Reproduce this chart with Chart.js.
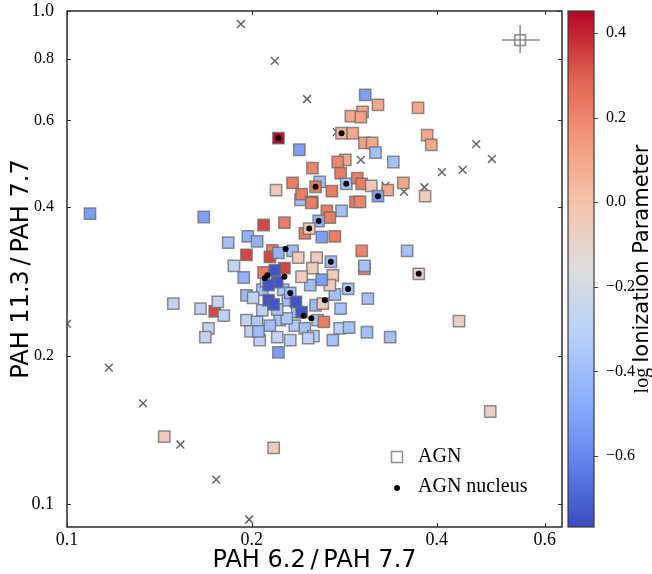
<!DOCTYPE html>
<html>
<head>
<meta charset="utf-8">
<script src="https://cdn.jsdelivr.net/npm/chart.js@4.4.1/dist/chart.umd.min.js"></script>
<style>
  body { margin: 0; background: #fff; }
  canvas { display: block; }
</style>
</head>
<body>
<canvas id="pah_ratio" width="652" height="574"></canvas>
<script>
// axis ticks
var xTicks = [0.1, 0.2, 0.4, 0.6];
var yTicks = [0.1, 0.2, 0.4, 0.6, 0.8, 1.0];
var yMajor = [0.1, 1.0];
var cbTicks = [-0.6, -0.4, -0.2, 0.0, 0.2, 0.4];
var xRange = [0.1, 0.64];
var yRange = [0.0898, 1.0];
var cbRange = [-0.768, 0.452];

// AGN regions: PAH 6.2/7.7, PAH 11.3/7.7, log U
var agnX = [0.109, 0.167, 0.149, 0.165, 0.174, 0.176, 0.180, 0.170, 0.168, 0.144, 0.217, 0.435, 0.489,
  0.221, 0.239, 0.251, 0.233, 0.219, 0.240, 0.241, 0.251, 0.258, 0.254, 0.306, 0.321, 0.373, 0.290,
  0.303, 0.301, 0.280, 0.292, 0.305, 0.314, 0.318, 0.386, 0.392, 0.340, 0.284, 0.276, 0.279, 0.270,
  0.285, 0.297, 0.302, 0.313, 0.333, 0.321, 0.353, 0.383, 0.295, 0.300, 0.280, 0.265, 0.250, 0.209,
  0.226, 0.197, 0.204, 0.183, 0.196, 0.216, 0.214, 0.221, 0.187, 0.194, 0.268, 0.257, 0.244, 0.248,
  0.260, 0.273, 0.302, 0.305, 0.305, 0.358, 0.374,
  0.208, 0.225, 0.229, 0.222, 0.235, 0.244, 0.256, 0.208, 0.214, 0.231, 0.254, 0.273, 0.249, 0.278,
  0.206, 0.237, 0.196, 0.201, 0.196, 0.204, 0.199, 0.205, 0.220, 0.228, 0.220, 0.211, 0.233, 0.238,
  0.255, 0.251, 0.241, 0.271, 0.268, 0.261, 0.269, 0.260, 0.287, 0.231, 0.209, 0.226, 0.218, 0.220,
  0.213, 0.213, 0.217, 0.236, 0.241, 0.262, 0.279, 0.309, 0.288, 0.308, 0.336, 0.271, 0.252, 0.247,
  0.221];
var agnY = [0.388, 0.382, 0.255, 0.249, 0.246, 0.257, 0.241, 0.227, 0.218, 0.137, 0.130, 0.235, 0.154,
  0.552, 0.523, 0.480, 0.448, 0.433, 0.414, 0.425, 0.410, 0.450, 0.440, 0.676, 0.645, 0.636, 0.612,
  0.624, 0.609, 0.565, 0.565, 0.540, 0.540, 0.516, 0.560, 0.535, 0.494, 0.499, 0.494, 0.469, 0.431,
  0.446, 0.458, 0.446, 0.442, 0.433, 0.421, 0.448, 0.421, 0.410, 0.410, 0.393, 0.393, 0.408, 0.368,
  0.372, 0.349, 0.341, 0.339, 0.320, 0.327, 0.317, 0.323, 0.304, 0.288, 0.381, 0.375, 0.354, 0.362,
  0.348, 0.349, 0.326, 0.300, 0.304, 0.326, 0.293,
  0.272, 0.272, 0.259, 0.236, 0.230, 0.227, 0.236, 0.247, 0.230, 0.215, 0.253, 0.266, 0.278, 0.227,
  0.215, 0.245, 0.265, 0.262, 0.236, 0.234, 0.224, 0.224, 0.218, 0.238, 0.248, 0.283, 0.326, 0.316,
  0.316, 0.301, 0.289, 0.291, 0.278, 0.255, 0.310, 0.285, 0.273, 0.268, 0.295, 0.301, 0.298, 0.282,
  0.278, 0.259, 0.254, 0.257, 0.245, 0.234, 0.249, 0.261, 0.228, 0.223, 0.218, 0.215, 0.219, 0.217,
  0.203];
var agnLogU = [-0.52, -0.52, -0.27, -0.27, 0.34, -0.27, -0.30, -0.27, -0.27, -0.05, -0.05, -0.08, -0.08,
  0.45, -0.52, 0.20, 0.22, -0.05, -0.38, 0.22, 0.20, -0.38, 0.22, -0.52, 0.10, 0.10, 0.10,
  0.10, 0.12, 0.05, 0.10, 0.12, 0.10, -0.38, 0.10, 0.10, -0.38, 0.10, 0.20, 0.22, 0.22,
  -0.38, 0.22, 0.22, -0.03, 0.10, -0.52, 0.10, -0.05, 0.22, 0.20, -0.38, 0.22, 0.22, 0.34,
  0.22, -0.45, -0.45, -0.38, 0.34, 0.22, 0.34, -0.45, -0.27, -0.45, 0.22, -0.45, 0.22, -0.05,
  -0.52, 0.22, 0.20, 0.20, -0.38, -0.38, -0.08,
  -0.38, -0.35, -0.40, -0.38, -0.35, -0.38, -0.35, -0.30, -0.40, -0.30, -0.40, -0.38, -0.40, -0.30,
  -0.30, -0.40, -0.40, -0.27, -0.27, -0.35, -0.27, -0.40, -0.27, -0.35, -0.38, -0.27, -0.40, -0.05,
  -0.05, -0.05, -0.05, -0.05, -0.05, -0.05, -0.40, -0.52, -0.38, -0.40, 0.22, 0.34, -0.74, -0.74,
  -0.74, -0.74, -0.74, -0.74, -0.74, 0.22, -0.38, -0.38, -0.38, -0.38, -0.38, -0.38, -0.30, -0.30,
  -0.52];

// AGN nucleus
var nucX = [0.221, 0.280, 0.254, 0.285, 0.321, 0.257, 0.248, 0.227, 0.212, 0.210, 0.226, 0.269,
  0.231, 0.287, 0.263, 0.243, 0.250, 0.374];
var nucY = [0.552, 0.565, 0.440, 0.446, 0.421, 0.375, 0.362, 0.329, 0.291, 0.287, 0.289, 0.310,
  0.268, 0.273, 0.259, 0.241, 0.238, 0.293];

// non-AGN (crosses)
var otherX = [0.192, 0.218, 0.246, 0.275, 0.301, 0.330, 0.354, 0.382, 0.408, 0.441, 0.464, 0.492,
  0.100, 0.117, 0.133, 0.153, 0.175, 0.198];
var otherY = [0.941, 0.792, 0.663, 0.568, 0.499, 0.442, 0.430, 0.439, 0.471, 0.476, 0.537, 0.501,
  0.232, 0.189, 0.160, 0.132, 0.112, 0.093];

// typical error bar
var errX = [0.547];
var errY = [0.873];
var errXRange = [0.511, 0.589];
var errYRange = [0.822, 0.937];

var coolwarmStops = [[59, 76, 192], [98, 130, 234], [141, 176, 254], [184, 208, 249], [221, 221, 221],
  [245, 196, 173], [244, 154, 123], [222, 96, 77], [180, 4, 38]];

function coolwarm(v) {
  var t = (v - cbRange[0]) / (cbRange[1] - cbRange[0]);
  t = Math.min(1, Math.max(0, t)) * 8;
  var i = Math.min(7, Math.floor(t)), f = t - i;
  var a = coolwarmStops[i], b = coolwarmStops[i + 1];
  return 'rgb(' + a.map(function (c, k) { return Math.round(c + (b[k] - c) * f); }).join(',') + ')';
}

function pts(xs, ys) {
  return xs.map(function (x, i) { return { x: x, y: ys[i] }; });
}

// no label overhang padding, the frame is placed by the fixed sizes below
function noPad(s) {
  s.paddingTop = 0; s.paddingBottom = 0; s.paddingLeft = 0; s.paddingRight = 0;
}

var serif = 'Liberation Serif';
var sans = 'DejaVu Sans';
var edgeColor = 'rgba(105,105,105,0.75)';

var decor = {
  id: 'decor',
  beforeDatasetsDraw: function (chart) {
    var ctx = chart.ctx, sx = chart.scales.x, sy = chart.scales.y;
    ctx.save();
    ctx.strokeStyle = '#8a8a8a';
    ctx.lineWidth = 1.5;
    ctx.beginPath();
    ctx.moveTo(sx.getPixelForValue(errXRange[0]), sy.getPixelForValue(errY[0]));
    ctx.lineTo(sx.getPixelForValue(errXRange[1]), sy.getPixelForValue(errY[0]));
    ctx.moveTo(sx.getPixelForValue(errX[0]), sy.getPixelForValue(errYRange[0]));
    ctx.lineTo(sx.getPixelForValue(errX[0]), sy.getPixelForValue(errYRange[1]));
    ctx.stroke();
    ctx.restore();
  },
  afterDraw: function (chart) {
    var ctx = chart.ctx, a = chart.chartArea;
    var sx = chart.scales.x, sy = chart.scales.y, cb = chart.scales.cb;
    ctx.save();
    // frame
    ctx.strokeStyle = '#2b2b2b';
    ctx.lineWidth = 1.5;
    ctx.strokeRect(a.left, a.top, a.right - a.left, a.bottom - a.top);
    // inward ticks on all four sides
    ctx.lineWidth = 1;
    ctx.beginPath();
    sx.ticks.forEach(function (t) {
      var px = Math.round(sx.getPixelForValue(t.value)) + 0.5;
      ctx.moveTo(px, a.bottom); ctx.lineTo(px, a.bottom - 4);
      ctx.moveTo(px, a.top); ctx.lineTo(px, a.top + 4);
    });
    sy.ticks.forEach(function (t) {
      var py = Math.round(sy.getPixelForValue(t.value)) + 0.5;
      ctx.moveTo(a.left, py); ctx.lineTo(a.left + 4, py);
      ctx.moveTo(a.right, py); ctx.lineTo(a.right - 4, py);
    });
    ctx.stroke();

    // colour bar
    var bx = a.right + 6, bw = 26;
    var g = ctx.createLinearGradient(0, cb.bottom, 0, cb.top);
    coolwarmStops.forEach(function (c, i) { g.addColorStop(i / 8, 'rgb(' + c.join(',') + ')'); });
    ctx.fillStyle = g;
    ctx.fillRect(bx, cb.top, bw, cb.bottom - cb.top);
    ctx.strokeStyle = '#3a3a3a';
    ctx.lineWidth = 1.2;
    ctx.strokeRect(bx, cb.top, bw, cb.bottom - cb.top);
    ctx.lineWidth = 1;
    ctx.beginPath();
    cb.ticks.forEach(function (t) {
      var py = Math.round(cb.getPixelForValue(t.value)) + 0.5;
      ctx.moveTo(bx + bw, py); ctx.lineTo(bx + bw + 4, py);
    });
    ctx.stroke();

    // colour bar label, reading upwards
    ctx.fillStyle = '#000';
    ctx.textBaseline = 'alphabetic';
    ctx.textAlign = 'left';
    ctx.translate(648, (cb.top + cb.bottom) / 2);
    ctx.rotate(-Math.PI / 2);
    ctx.font = '20px "' + serif + '"';
    var w1 = ctx.measureText('log').width;
    ctx.font = '21px "' + sans + '"';
    var w2 = ctx.measureText('Ionization Parameter').width;
    var gap = 5;
    var start = -(w1 + gap + w2) / 2;
    ctx.font = '20px "' + serif + '"';
    ctx.fillText('log', start, 0);
    ctx.font = '21px "' + sans + '"';
    ctx.fillText('Ionization Parameter', start + w1 + gap, 0);
    ctx.restore();

    // legend
    ctx.save();
    var lx = a.right - 165, ly1 = a.bottom - 70, ly2 = a.bottom - 39;
    ctx.strokeStyle = edgeColor;
    ctx.lineWidth = 1.5;
    ctx.strokeRect(lx - 5.5, ly1 - 5.5, 11, 11);
    ctx.fillStyle = '#000';
    ctx.beginPath();
    ctx.arc(lx, ly2, 3, 0, Math.PI * 2);
    ctx.fill();
    ctx.font = '20px "' + serif + '"';
    ctx.textBaseline = 'middle';
    ctx.fillText(chart.data.datasets[1].label, lx + 21, ly1);
    ctx.fillText(chart.data.datasets[0].label, lx + 21, ly2 - 1);
    ctx.restore();
  }
};

Chart.defaults.font.family = serif;
Chart.defaults.color = '#000';

var ctx = document.getElementById('pah_ratio').getContext('2d');
var pahChart = new Chart(ctx, {
  type: 'scatter',
  data: {
    datasets: [{
      label: 'AGN nucleus',
      data: pts(nucX, nucY),
      pointStyle: 'circle',
      pointRadius: 3,
      backgroundColor: '#000',
      borderWidth: 0,
      order: 0
    }, {
      label: 'AGN',
      data: pts(agnX, agnY),
      pointStyle: 'rect',
      pointRadius: 8,
      backgroundColor: agnLogU.map(coolwarm),
      borderColor: edgeColor,
      borderWidth: 1.5,
      order: 1
    }, {
      label: 'other',
      data: pts(otherX, otherY),
      pointStyle: 'crossRot',
      pointRadius: 5.5,
      borderColor: '#666',
      borderWidth: 1.5,
      clip: 0,
      order: 2
    }, {
      label: 'error',
      data: pts(errX, errY),
      pointStyle: 'rect',
      pointRadius: 7.5,
      backgroundColor: 'rgba(255,255,255,0)',
      borderColor: '#8a8a8a',
      borderWidth: 1.5,
      order: 3
    }]
  },
  options: {
    responsive: false,
    animation: false,
    devicePixelRatio: 1,
    layout: { padding: { top: 11, left: 0, right: 0, bottom: 0 } },
    plugins: {
      legend: { display: false },
      tooltip: { enabled: false }
    },
    scales: {
      x: {
        type: 'logarithmic',
        min: xRange[0],
        max: xRange[1],
        bounds: 'data',
        afterBuildTicks: function (s) { s.ticks = xTicks.map(function (v) { return { value: v }; }); },
        afterFit: function (s) { s.height = 47; noPad(s); },
        grid: { display: false },
        border: { display: false },
        ticks: {
          autoSkip: false,
          maxRotation: 0,
          padding: -6,
          font: { family: serif, size: 18 },
          callback: function (v) { return Number(v).toFixed(1); }
        },
        title: {
          display: true,
          text: 'PAH 6.2\u2009/\u2009PAH 7.7',
          font: { family: sans, size: 24, lineHeight: 1 },
          padding: { top: 0, bottom: 1.5 }
        }
      },
      y: {
        type: 'logarithmic',
        min: yRange[0],
        max: yRange[1],
        bounds: 'data',
        afterBuildTicks: function (s) { s.ticks = yTicks.map(function (v) { return { value: v }; }); },
        afterFit: function (s) { s.width = 67; noPad(s); },
        grid: { display: false },
        border: { display: false },
        ticks: {
          autoSkip: false,
          padding: 5,
          font: function (c) {
            var big = c.tick && yMajor.some(function (m) { return Math.abs(m - c.tick.value) < 1e-9; });
            return { family: serif, size: big ? 18 : 16 };
          },
          callback: function (v) { return Number(v).toFixed(1); }
        },
        title: {
          display: true,
          text: 'PAH 11.3\u2009/\u2009PAH 7.7',
          font: { family: sans, size: 24, lineHeight: 1 },
          padding: { top: 9.5, bottom: 0 }
        }
      },
      cb: {
        type: 'linear',
        axis: 'y',
        position: 'right',
        min: cbRange[0],
        max: cbRange[1],
        bounds: 'data',
        afterBuildTicks: function (s) { s.ticks = cbTicks.map(function (v) { return { value: v }; }); },
        afterFit: function (s) { s.width = 90; noPad(s); },
        grid: { display: false },
        border: { display: false },
        ticks: {
          autoSkip: false,
          padding: 36,
          font: { family: serif, size: 16 },
          callback: function (v) { return Number(v).toFixed(1).replace('-', '\u2212'); }
        }
      }
    }
  },
  plugins: [decor]
});
</script>
</body>
</html>
